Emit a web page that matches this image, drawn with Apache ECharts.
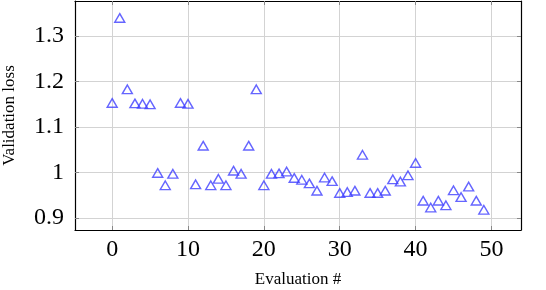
<!DOCTYPE html>
<html>
<head>
<meta charset="utf-8">
<script src="https://cdn.jsdelivr.net/npm/echarts@6/dist/echarts.min.js"></script>
<style>html,body{margin:0;padding:0;background:#fff}#c{width:546px;height:290px}</style>
</head>
<body>
<div id="c"></div>
<script>
const evalIdx = [0,1,2,3,4,5,6,7,8,9,10,11,12,13,14,15,16,17,18,19,20,21,22,23,24,25,26,27,28,29,30,31,32,33,34,35,36,37,38,39,40,41,42,43,44,45,46,47,48,49];
const valLoss = [1.150,1.337,1.180,1.149,1.148,1.147,0.996,0.969,0.994,1.150,1.148,0.971,1.056,0.969,0.983,0.969,1.001,0.994,1.056,1.180,
  0.969,0.994,0.995,0.999,0.985,0.981,0.973,0.957,0.986,0.978,0.952,0.954,0.957,1.036,0.952,0.952,0.957,0.982,0.977,0.991,
  1.018,0.935,0.920,0.935,0.925,0.958,0.943,0.966,0.935,0.915];
const xTicks = [0,10,20,30,40,50];
const yTicks = [0.9,1.0,1.1,1.2,1.3];
const xRange = [-4.9, 53.9];
const yRange = [0.8736, 1.3774];

const font = "'Liberation Serif', 'Times New Roman', serif";
const chart = echarts.init(document.getElementById('c'), null, {renderer:'canvas'});
const tickStyle = {show:true, inside:true, length:4, lineStyle:{color:'#888', width:1}};
chart.setOption({
  animation:false,
  grid:{left:75, right:25, top:1, bottom:60, show:false, containLabel:false, outerBoundsMode:'none'},
  xAxis:[{
    type:'value', min:xRange[0], max:xRange[1], position:'bottom',
    name:'Evaluation #', nameLocation:'middle', nameGap:41,
    nameTextStyle:{fontFamily:font, fontSize:17, color:'#000'},
    axisLine:{show:true, onZero:false, lineStyle:{color:'#000', width:1.2}},
    axisTick:Object.assign({customValues:xTicks}, tickStyle),
    axisLabel:{customValues:xTicks, fontFamily:font, fontSize:24, color:'#000', margin:8},
    splitLine:{show:true, lineStyle:{color:'#d3d3d3', width:1}}
  },{
    type:'value', min:xRange[0], max:xRange[1], position:'top',
    axisLine:{show:true, onZero:false, lineStyle:{color:'#000', width:1.2}},
    axisTick:Object.assign({customValues:xTicks}, tickStyle),
    axisLabel:{show:false}, splitLine:{show:false}
  }],
  yAxis:[{
    type:'value', min:yRange[0], max:yRange[1], position:'left',
    name:'Validation loss', nameLocation:'middle', nameGap:57, nameRotate:90,
    nameTextStyle:{fontFamily:font, fontSize:17, color:'#000'},
    axisLine:{show:true, onZero:false, lineStyle:{color:'#000', width:1.2}},
    axisTick:Object.assign({customValues:yTicks}, tickStyle),
    axisLabel:{customValues:yTicks, fontFamily:font, fontSize:24, color:'#000', margin:11,
      formatter:v=>{const s=(Math.round(v*10)/10).toString(); return s;}},
    splitLine:{show:true, lineStyle:{color:'#d3d3d3', width:1}}
  },{
    type:'value', min:yRange[0], max:yRange[1], position:'right',
    axisLine:{show:true, onZero:false, lineStyle:{color:'#000', width:1.2}},
    axisTick:Object.assign({customValues:yTicks}, tickStyle),
    axisLabel:{show:false}, splitLine:{show:false}
  }],
  series:[{
    type:'scatter',
    data:evalIdx.map((x,i)=>[x,valLoss[i]]),
    symbol:'triangle', symbolSize:[10,8.6], symbolOffset:[0,-1.4],
    itemStyle:{color:'rgba(0,0,0,0)', borderColor:'#3f3fff', borderWidth:1.4}
  }]
});
</script>
</body>
</html>
